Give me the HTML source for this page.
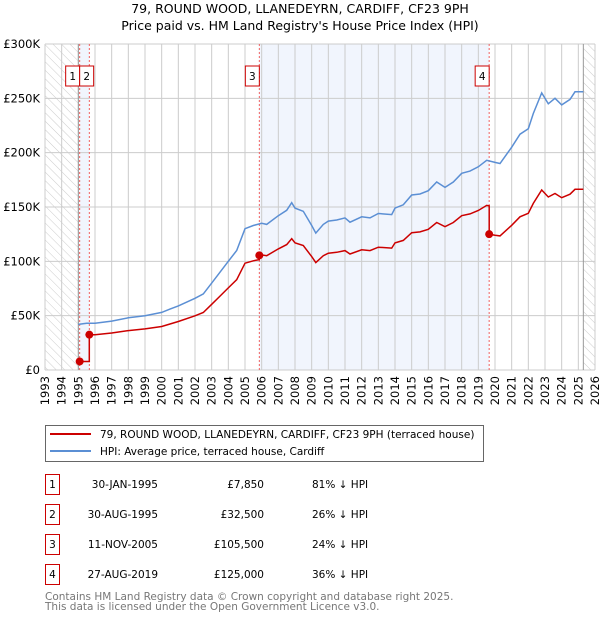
<!DOCTYPE html>
<html><head><meta charset="utf-8"><style>
body{margin:0;background:#fff;font-family:"DejaVu Sans","Liberation Sans",sans-serif;}
svg text{font-family:"DejaVu Sans","Liberation Sans",sans-serif;}
</style></head><body>
<svg id="chart" width="600" height="620" xmlns="http://www.w3.org/2000/svg">
<defs><pattern id="hatch" width="6" height="6" patternUnits="userSpaceOnUse" patternTransform="rotate(-45)"><line x1="0" y1="0" x2="0" y2="6" stroke="#ccc" stroke-width="1"/></pattern></defs>
<text x="300" y="13" text-anchor="middle" font-size="12.5">79, ROUND WOOD, LLANEDEYRN, CARDIFF, CF23 9PH</text>
<text x="300" y="30" text-anchor="middle" font-size="12.5">Price paid vs. HM Land Registry's House Price Index (HPI)</text>
<g id="plot"></g>
<g>
<rect x="45.5" y="425.5" width="438" height="36" fill="#fff" stroke="#666"/>
<line x1="50" y1="434" x2="91" y2="434" stroke="#cc0000" stroke-width="2"/>
<text x="100" y="438" font-size="10.5">79, ROUND WOOD, LLANEDEYRN, CARDIFF, CF23 9PH (terraced house)</text>
<line x1="50" y1="451" x2="91" y2="451" stroke="#5b8fd4" stroke-width="2"/>
<text x="100" y="455" font-size="10.5">HPI: Average price, terraced house, Cardiff</text>
</g>
<g id="table"></g>
<text x="45" y="600" font-size="10.5" fill="#777">Contains HM Land Registry data © Crown copyright and database right 2025.</text>
<text x="45" y="610" font-size="10.5" fill="#777">This data is licensed under the Open Government Licence v3.0.</text>
</svg>
<script>
const hpiYears=[1995.0,1995.5,1996,1997,1998,1999,2000,2000.5,2001,2002,2002.5,2003,2003.5,2004,2004.5,2005,2005.5,2006,2006.3,2007,2007.5,2007.8,2008,2008.5,2009,2009.25,2009.7,2010,2010.5,2011,2011.3,2012,2012.5,2013,2013.8,2014,2014.5,2015,2015.5,2016,2016.5,2017,2017.5,2018,2018.5,2019,2019.5,2020,2020.3,2021,2021.5,2022,2022.3,2022.8,2023.2,2023.6,2024,2024.5,2024.8,2025.3];
const hpiValues=[42,43,43,45,48,50,53,56,59,66,70,80,90,100,110,130,133,135,134,142,147,154,149,146,133,126,134,137,138,140,136,141,140,144,143,149,152,161,162,165,173,168,173,181,183,187,193,191,190,205,217,222,236,255,245,250,244,249,256,256];
const saleDates=[1995.08,1995.66,2005.86,2019.65];
const salePrices=[7850,32500,105500,125000];
const saleLabels=["30-JAN-1995","30-AUG-1995","11-NOV-2005","27-AUG-2019"];
const salePriceText=["£7,850","£32,500","£105,500","£125,000"];
const saleHpiText=["81% ↓ HPI","26% ↓ HPI","24% ↓ HPI","36% ↓ HPI"];
const yTicks=[0,50,100,150,200,250,300];
const yTickLabels=["£0","£50K","£100K","£150K","£200K","£250K","£300K"];
const xYears=[1993,1994,1995,1996,1997,1998,1999,2000,2001,2002,2003,2004,2005,2006,2007,2008,2009,2010,2011,2012,2013,2014,2015,2016,2017,2018,2019,2020,2021,2022,2023,2024,2025,2026];

const X0=45,X1=595,Y0=370,Y1=44,T0=1993,T1=2026,V1=300;
const xs=t=>X0+(t-T0)/(T1-T0)*(X1-X0);
const ys=v=>Y0-v/V1*(Y0-Y1);
const NS="http://www.w3.org/2000/svg";
function mk(tag,attrs,parent){const e=document.createElementNS(NS,tag);for(const k in attrs)e.setAttribute(k,attrs[k]);parent.appendChild(e);return e;}
const plot=document.getElementById('plot');
function hpiAt(t){if(t<=hpiYears[0])return hpiValues[0];for(let i=1;i<hpiYears.length;i++){if(t<=hpiYears[i]){const f=(t-hpiYears[i-1])/(hpiYears[i]-hpiYears[i-1]);return hpiValues[i-1]+f*(hpiValues[i]-hpiValues[i-1]);}}return hpiValues[hpiValues.length-1];}

const lastT=hpiYears[hpiYears.length-1];
let r=mk('rect',{x:X0,y:Y1,width:xs(1995)-X0,height:Y0-Y1,fill:'url(#hatch)'},plot);

r=mk('rect',{x:xs(lastT),y:Y1,width:X1-xs(lastT),height:Y0-Y1,fill:'url(#hatch)'},plot);

for(const [a,b] of [[0,1],[2,3]]){
 r=mk('rect',{x:xs(saleDates[a]),y:Y1,width:xs(saleDates[b])-xs(saleDates[a]),height:Y0-Y1,fill:'#eef3fd',opacity:0.8},plot);
 
}
yTicks.forEach((v,i)=>{
 const l=mk('line',{x1:X0,x2:X1,y1:ys(v),y2:ys(v),stroke:'#ccc','stroke-width':1},plot);
 
 const t=mk('text',{x:40,y:ys(v)+4,'text-anchor':'end','font-size':'11.5'},plot);t.textContent=yTickLabels[i];
 
});
xYears.forEach(yr=>{
 const l=mk('line',{x1:xs(yr),x2:xs(yr),y1:Y1,y2:Y0,stroke:'#ccc','stroke-width':1},plot);
 
 const t=mk('text',{x:0,y:0,'font-size':'11.5','text-anchor':'end',transform:`translate(${xs(yr)+4},${Y0+6}) rotate(-90)`},plot);t.textContent=yr;
 
});
let l=mk('line',{x1:xs(1995),x2:xs(1995),y1:Y1,y2:Y0,stroke:'#999'},plot);

l=mk('line',{x1:xs(lastT),x2:xs(lastT),y1:Y1,y2:Y0,stroke:'#999'},plot);

saleDates.forEach((d,i)=>{
 const v=mk('line',{x1:xs(d),x2:xs(d),y1:Y1,y2:Y0,stroke:'#f06060','stroke-dasharray':'2,2','stroke-width':1},plot);
 
});
let p='';hpiYears.forEach((t,i)=>{p+=(i?'L':'M')+xs(t).toFixed(1)+','+ys(hpiValues[i]).toFixed(1);});
let path=mk('path',{d:p,fill:'none',stroke:'#5b8fd4','stroke-width':1.5},plot);

function priceAt(t){let k=-1;for(let i=0;i<saleDates.length;i++)if(t>=saleDates[i])k=i;if(k<0)return null;if(k===0&&t<saleDates[1])return salePrices[0]/1000;return salePrices[k]/1000*hpiAt(t)/hpiAt(saleDates[k]);}
let times=[saleDates[0]];hpiYears.forEach(t=>{if(t>saleDates[0])times.push(t);});
saleDates.forEach(d=>{times.push(d-0.001);times.push(d);});
times=times.filter(t=>t>=saleDates[0]&&t<=lastT).sort((a,b)=>a-b);
p='';times.forEach((t,i)=>{const v=priceAt(t);p+=(i?'L':'M')+xs(t).toFixed(1)+','+ys(v).toFixed(1);});
path=mk('path',{d:p,fill:'none',stroke:'#cc0000','stroke-width':1.5},plot);

saleDates.forEach((d,i)=>{
 const c=mk('circle',{cx:xs(d),cy:ys(salePrices[i]/1000),r:4,fill:'#cc0000'},plot);
 
});
saleDates.forEach((d,i)=>{
 const bx=i===1?xs(1995.08):xs(d)-14;
 const rr=mk('rect',{x:bx,y:66,width:14,height:20,fill:'#fff',stroke:'#cc0000'},plot);
 
 const tx=mk('text',{x:bx+7,y:80,'text-anchor':'middle','font-size':'10.5'},plot);tx.textContent=i+1;
 
});
const tb=document.getElementById('table');
saleDates.forEach((d,i)=>{
 const y=483+i*30;
 const b=mk('rect',{x:45.5,y:y-8.5,width:14,height:20,fill:'#fff',stroke:'#cc0000'},tb);
 
 let t=mk('text',{x:52.5,y:y+5,'text-anchor':'middle','font-size':'10.5'},tb);t.textContent=i+1;
 
 t=mk('text',{x:158,y:y+5,'text-anchor':'end','font-size':'10.5'},tb);t.textContent=saleLabels[i];
 
 t=mk('text',{x:264,y:y+5,'text-anchor':'end','font-size':'10.5'},tb);t.textContent=salePriceText[i];
 
 t=mk('text',{x:312,y:y+5,'font-size':'10.5'},tb);t.textContent=saleHpiText[i];
 
});
</script>
</body></html>
